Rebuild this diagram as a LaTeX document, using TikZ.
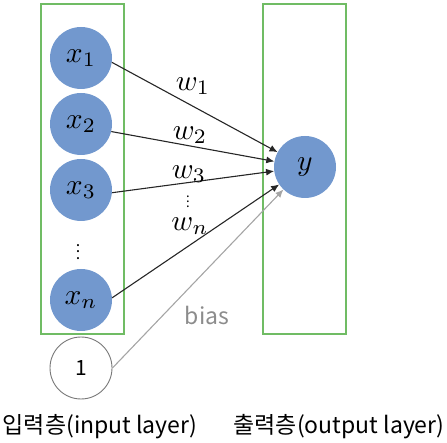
\documentclass[tikz,border=0pt]{standalone}
\usepackage{graphicx}
\usepackage{fontspec}
\setmainfont{Noto Sans CJK KR}
\usetikzlibrary{arrows.meta}
\definecolor{nodeblue}{RGB}{114,152,206}
\definecolor{boxgreen}{RGB}{112,188,100}
\definecolor{biasgray}{RGB}{165,165,165}
\definecolor{onegray}{RGB}{120,120,120}
\newcommand\mathbig[1]{\scalebox{2.95}{$#1$}}
\newcommand\dotsbig{\scalebox{1.6}{$\vdots$}}
\newcommand\dotssmall{\scalebox{1.3}{$\vdots$}}
\tikzset{
  layerbox/.style={draw=boxgreen, line width=1.2pt},
  neuron/.style={circle, fill=nodeblue, minimum size=62pt, inner sep=0pt, font=\fontsize{10}{10}\selectfont},
  onenode/.style={circle, draw=onegray, fill=white, line width=0.9pt, minimum size=62pt, inner sep=0pt, font=\fontsize{21}{21}\selectfont},
  conn/.style={draw=black!85, line width=1.1pt, -{Latex[length=8pt,width=7pt]}},
  biasconn/.style={draw=biasgray, line width=1.1pt, -{Latex[length=8pt,width=7pt]}},
  wlabel/.style={inner sep=0pt, font=\fontsize{10}{10}\selectfont},
  caption/.style={inner sep=0pt, font=\fontsize{23}{23}\selectfont},
}
\begin{document}
\begin{tikzpicture}[x=1pt,y=-1pt]
\useasboundingbox (0,0) rectangle (447,443);
% layer boxes
\draw[layerbox] (41,4) rectangle (124,334);
\draw[layerbox] (263,4) rectangle (346,334);
% input neurons
\node[neuron] (x1) at (81,58) {\mathbig{x_1}};
\node[neuron] (x2) at (81,124) {\mathbig{x_2}};
\node[neuron] (x3) at (81,190) {\mathbig{x_3}};
\node[neuron] (xn) at (81,300) {\mathbig{x_n}};
\node[wlabel] (ldots) at (78,247) {\dotsbig};
\node[onenode] (one) at (81,368) {1};
% output neuron
\node[neuron] (y) at (305,167) {\mathbig{y}};
% connections
\draw[conn] (x1.-8) -- (y);
\draw[conn] (x2.-14) -- (y);
\draw[conn] (x3.-5) -- (y);
\draw[conn] (xn.4) -- (y);
\draw[biasconn] (one.0) -- (y);
% weight labels
\node[wlabel] (w1) at (193,86) {\mathbig{w_1}};
\node[wlabel] (w2) at (190,135) {\mathbig{w_2}};
\node[wlabel] (w3) at (189,174) {\mathbig{w_3}};
\node[wlabel] (wdots) at (188,198) {\dotssmall};
\node[wlabel] (wn) at (190,226) {\mathbig{w_n}};
\node[caption, text=biasgray!85!black] (bias) at (207,315) {bias};
% captions
\node[caption] (incap) at (100,427) {입력층(input layer)};
\node[caption] (outcap) at (339,427) {출력층(output layer)};
\end{tikzpicture}
\end{document}
